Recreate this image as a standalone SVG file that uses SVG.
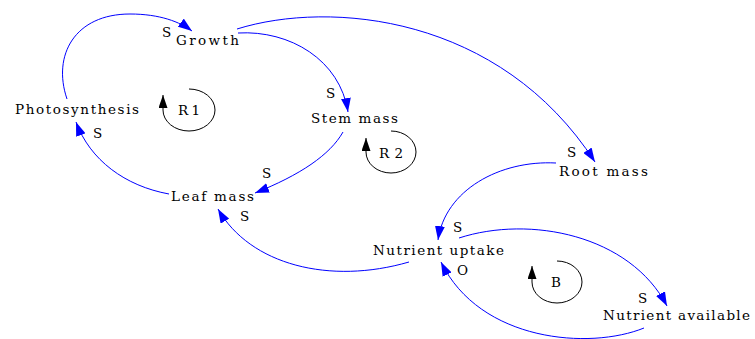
<svg xmlns="http://www.w3.org/2000/svg" width="755" height="339" viewBox="0 0 755 339">
<style>
  text { font-family: "DejaVu Serif", "Liberation Serif", serif; font-size: 13.5px; fill: #000; }
  .edge { fill: none; stroke: #0000ff; stroke-width: 1; }
  .loop { fill: none; stroke: #000; stroke-width: 1; }
</style>
<defs>
  <marker id="arrB" viewBox="0 0 14 10" refX="14" refY="5" markerWidth="14" markerHeight="10" markerUnits="userSpaceOnUse" orient="auto">
    <path d="M0,0 L14,5 L0,10 z" fill="#0000ff"/>
  </marker>
  <marker id="arrK" viewBox="0 0 13 9" refX="13" refY="4.5" markerWidth="13" markerHeight="9" markerUnits="userSpaceOnUse" orient="auto">
    <path d="M0,0 L13,4.5 L0,9 z" fill="#000"/>
  </marker>
</defs>
<rect width="755" height="339" fill="#fff"/>

<g id="connectors">
  <path class="edge" marker-end="url(#arrB)" d="M67,99 C52,55 75,14 130,14 C160,14 180,22 192,31"/>
  <path class="edge" marker-end="url(#arrB)" d="M238,33 C290,30 340,60 348,112"/>
  <path class="edge" marker-end="url(#arrB)" d="M237,29 C330,0 500,15 595,162"/>
  <path class="edge" marker-end="url(#arrB)" d="M343,132 C330,155 300,175 255,193"/>
  <path class="edge" marker-end="url(#arrB)" d="M169,194 C125,186 90,160 76,122"/>
  <path class="edge" marker-end="url(#arrB)" d="M409,262 C330,285 250,265 218,209"/>
  <path class="edge" marker-end="url(#arrB)" d="M556,163 C500,160 445,190 438,240"/>
  <path class="edge" marker-end="url(#arrB)" d="M459,238 C530,215 630,235 667,306"/>
  <path class="edge" marker-end="url(#arrB)" d="M644,328 C590,350 480,342 441,262"/>
  <text x="162" y="37">S</text>
  <text x="326" y="98">S</text>
  <text x="567" y="157">S</text>
  <text x="262" y="178">S</text>
  <text x="93" y="138">S</text>
  <text x="240" y="221">S</text>
  <text x="453" y="232">S</text>
  <text x="638" y="303">S</text>
  <text x="457" y="275">O</text>
</g>

<g id="node-growth"><text x="176" y="45" textLength="63" lengthAdjust="spacing">Growth</text></g>
<g id="node-photosynthesis"><text x="15" y="114" textLength="124" lengthAdjust="spacing">Photosynthesis</text></g>
<g id="node-stem-mass"><text x="311" y="123" textLength="87" lengthAdjust="spacing">Stem mass</text></g>
<g id="node-leaf-mass"><text x="171" y="201" textLength="83" lengthAdjust="spacing">Leaf mass</text></g>
<g id="node-root-mass"><text x="559" y="176" textLength="89" lengthAdjust="spacing">Root mass</text></g>
<g id="node-nutrient-uptake"><text x="373" y="255" textLength="131" lengthAdjust="spacing">Nutrient uptake</text></g>
<g id="node-nutrient-available"><text x="603" y="320" textLength="147" lengthAdjust="spacing">Nutrient available</text></g>

<g id="loop-r1">
  <path class="loop" marker-end="url(#arrK)" d="M189,89 A26,21 0 1 1 163,110 L163,95"/>
  <text x="178" y="115" textLength="22" lengthAdjust="spacing">R1</text>
</g>
<g id="loop-r2">
  <path class="loop" marker-end="url(#arrK)" d="M391,131 A25,21 0 1 1 366,152 L366,138"/>
  <text x="379" y="158" textLength="24" lengthAdjust="spacing">R2</text>
</g>
<g id="loop-b">
  <path class="loop" marker-end="url(#arrK)" d="M557,261 A25,21 0 1 1 532,282 L532,266"/>
  <text x="551" y="287">B</text>
</g>
</svg>
